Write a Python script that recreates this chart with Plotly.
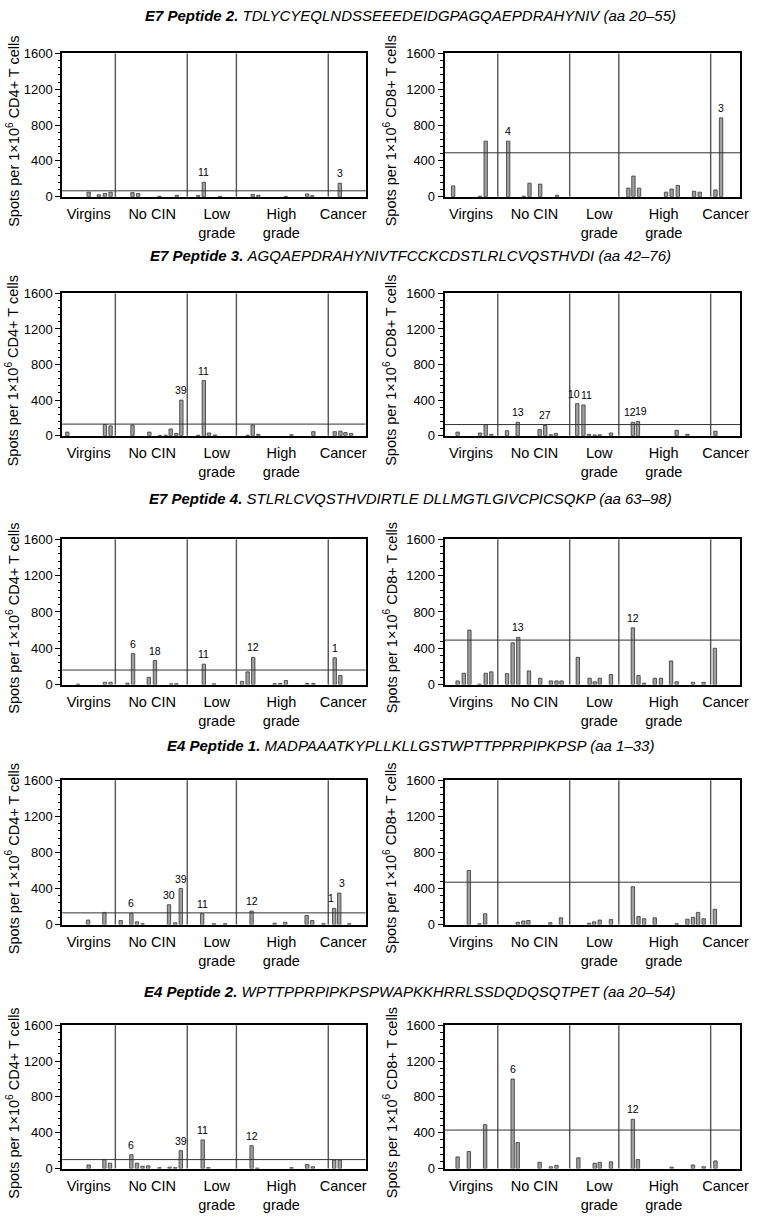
import plotly.graph_objects as go

# ---------------- data ----------------
GROUPS = ["Virgins", "No CIN", "Low<br>grade", "High<br>grade", "Cancer"]
GROUP_CENTERS = [4.7, 16.0, 27.5, 39.0, 50.0]
GROUP_BOUNDS = [9.45, 22.25, 31.0, 47.35]
X_END = [54.0, 52.6]
Y_MAX = 1600
Y_TICKS = [0, 400, 800, 1200, 1600]

TITLES = [
    ("E7 Peptide 2.", "TDLYCYEQLNDSSEEEDEIDGPAGQAEPDRAHYNIV (aa 20–55)"),
    ("E7 Peptide 3.", "AGQAEPDRAHYNIVTFCCKCDSTLRLCVQSTHVDI (aa 42–76)"),
    ("E7 Peptide 4.", "STLRLCVQSTHVDIRTLE DLLMGTLGIVCPICSQKP (aa 63–98)"),
    ("E4 Peptide 1.", "MADPAAATKYPLLKLLGSTWPTTPPRPIPKPSP (aa 1–33)"),
    ("E4 Peptide 2.", "WPTTPPRPIPKPSPWAPKKHRRLSSDQDQSQTPET (aa 20–54)"),
]
YTITLES = ["Spots per 1×10<sup>6</sup> CD4+ T cells",
           "Spots per 1×10<sup>6</sup> CD8+ T cells"]

# patient position along axis, spots value, labelled patients, cut-off line
E7P2_CD4_POS = [4.7, 6.5, 7.6, 8.6, 12.5, 13.5, 17.3, 20.4, 24.2, 25.2, 28.1, 33.9, 34.9, 39.8, 43.6, 44.5, 49.4]
E7P2_CD4_VAL = [50, 20, 35, 50, 45, 35, 5, 15, 12, 160, 3, 25, 15, 3, 30, 10, 150]
E7P2_CD4_LBL = {25.2: "11", 49.4: "3"}
E7P2_CD4_CUT = 65

E7P2_CD8_POS = [1.5, 6.3, 7.3, 11.3, 14.1, 15.1, 17.0, 20.0, 32.7, 33.6, 34.6, 39.4, 40.4, 41.5, 44.4, 45.4, 48.2, 49.2]
E7P2_CD8_VAL = [120, 5, 620, 620, 5, 150, 140, 15, 95, 230, 95, 50, 85, 125, 60, 50, 75, 880]
E7P2_CD8_LBL = {11.3: "4", 49.2: "3"}
E7P2_CD8_CUT = 490

E7P3_CD4_POS = [0.9, 7.6, 8.6, 12.5, 15.5, 17.4, 18.4, 19.3, 20.3, 21.2, 24.2, 25.2, 26.1, 27.2, 33.0, 33.9, 34.9, 40.8, 44.7, 48.5, 49.5, 50.4, 51.4]
E7P3_CD4_VAL = [40, 125, 110, 120, 40, 3, 5, 75, 25, 400, 5, 620, 30, 8, 5, 120, 15, 10, 45, 45, 50, 35, 25]
E7P3_CD4_LBL = {21.2: "39", 25.2: "11"}
E7P3_CD4_CUT = 130

E7P3_CD8_POS = [2.3, 6.3, 7.3, 8.3, 11.1, 13.0, 16.9, 17.9, 18.9, 19.8, 23.6, 24.7, 25.7, 26.7, 27.6, 29.6, 33.5, 34.4, 41.3, 43.2, 48.2]
E7P3_CD8_VAL = [40, 30, 125, 15, 55, 150, 70, 115, 10, 25, 360, 345, 15, 8, 10, 30, 150, 160, 60, 15, 50]
E7P3_CD8_LBL = {13.0: "13", 17.9: "27", 23.6: "10", 24.7: "11", 33.5: "12", 34.4: "19"}
E7P3_CD8_CUT = 125

E7P4_CD4_POS = [2.8, 7.6, 8.6, 11.6, 12.6, 15.4, 16.5, 19.4, 20.3, 25.2, 27.0, 32.0, 33.0, 34.0, 37.8, 38.8, 39.8, 43.6, 44.7, 48.5, 49.5]
E7P4_CD4_VAL = [5, 25, 25, 15, 340, 80, 265, 8, 10, 225, 8, 35, 140, 300, 10, 12, 45, 12, 12, 295, 100]
E7P4_CD4_LBL = {12.6: "6", 16.5: "18", 25.2: "11", 34.0: "12", 48.5: "1"}
E7P4_CD4_CUT = 160

E7P4_CD8_POS = [2.3, 3.4, 4.4, 6.2, 7.3, 8.3, 11.1, 12.1, 13.1, 15.0, 17.0, 18.9, 19.9, 20.8, 23.7, 25.8, 26.7, 27.6, 29.6, 33.5, 34.5, 35.5, 37.4, 38.5, 40.3, 41.3, 44.2, 46.1, 48.1]
E7P4_CD8_VAL = [40, 125, 600, 5, 125, 140, 120, 460, 520, 150, 70, 40, 40, 40, 300, 70, 30, 70, 110, 625, 100, 15, 70, 70, 260, 30, 25, 25, 400]
E7P4_CD8_LBL = {13.1: "13", 33.5: "12"}
E7P4_CD8_CUT = 490

E4P1_CD4_POS = [4.6, 7.5, 10.4, 12.3, 13.3, 14.3, 19.0, 20.1, 21.1, 24.9, 27.0, 29.0, 33.7, 37.8, 39.7, 43.5, 44.5, 46.5, 48.4, 49.3, 51.1]
E4P1_CD4_VAL = [50, 135, 45, 125, 30, 10, 220, 20, 400, 120, 10, 10, 150, 15, 25, 100, 45, 10, 180, 350, 10]
E4P1_CD4_LBL = {12.3: "6", 19.0: "30", 21.1: "39", 24.9: "11", 33.7: "12", 48.4: "1", 49.3: "3"}
E4P1_CD4_CUT = 130

E4P1_CD8_POS = [4.3, 6.2, 7.2, 13.0, 14.0, 14.9, 18.8, 20.7, 25.7, 26.6, 27.6, 29.6, 33.5, 34.5, 35.5, 37.4, 41.3, 43.2, 44.2, 45.1, 46.1, 48.1]
E4P1_CD8_VAL = [600, 10, 120, 25, 40, 45, 20, 75, 15, 30, 50, 55, 420, 90, 65, 75, 10, 60, 80, 135, 65, 170]
E4P1_CD8_LBL = {}
E4P1_CD8_CUT = 470

E4P2_CD4_POS = [4.7, 7.5, 8.5, 12.3, 13.3, 14.3, 15.3, 17.3, 19.1, 20.1, 21.1, 25.0, 26.0, 33.7, 34.7, 40.8, 43.6, 44.6, 48.4, 49.4]
E4P2_CD4_VAL = [40, 100, 60, 155, 60, 25, 30, 10, 15, 10, 200, 320, 10, 255, 5, 10, 45, 20, 95, 95]
E4P2_CD4_LBL = {12.3: "6", 21.1: "39", 25.0: "11", 33.7: "12"}
E4P2_CD4_CUT = 100

E4P2_CD8_POS = [2.3, 4.3, 7.2, 12.1, 13.0, 16.9, 18.9, 19.9, 23.8, 26.7, 27.6, 29.6, 33.5, 34.4, 40.4, 44.2, 46.1, 48.2]
E4P2_CD8_VAL = [130, 190, 490, 1000, 290, 70, 20, 35, 120, 60, 70, 75, 550, 100, 15, 40, 20, 85]
E4P2_CD8_LBL = {12.1: "6", 33.5: "12"}
E4P2_CD8_CUT = 430

PANELS = [
    [(E7P2_CD4_POS, E7P2_CD4_VAL, E7P2_CD4_LBL, E7P2_CD4_CUT), (E7P2_CD8_POS, E7P2_CD8_VAL, E7P2_CD8_LBL, E7P2_CD8_CUT)],
    [(E7P3_CD4_POS, E7P3_CD4_VAL, E7P3_CD4_LBL, E7P3_CD4_CUT), (E7P3_CD8_POS, E7P3_CD8_VAL, E7P3_CD8_LBL, E7P3_CD8_CUT)],
    [(E7P4_CD4_POS, E7P4_CD4_VAL, E7P4_CD4_LBL, E7P4_CD4_CUT), (E7P4_CD8_POS, E7P4_CD8_VAL, E7P4_CD8_LBL, E7P4_CD8_CUT)],
    [(E4P1_CD4_POS, E4P1_CD4_VAL, E4P1_CD4_LBL, E4P1_CD4_CUT), (E4P1_CD8_POS, E4P1_CD8_VAL, E4P1_CD8_LBL, E4P1_CD8_CUT)],
    [(E4P2_CD4_POS, E4P2_CD4_VAL, E4P2_CD4_LBL, E4P2_CD4_CUT), (E4P2_CD8_POS, E4P2_CD8_VAL, E4P2_CD8_LBL, E4P2_CD8_CUT)],
]

# ---------------- layout (pixels) ----------------
W, H = 763, 1220
COL_PX = [(63, 370), (450, 749)]
ROW_PX = [(47, 192), (290, 434), (539, 686), (783, 929), (1031, 1176)]
TITLE_Y_PX = [9, 252, 498, 748, 997]
TITLE_X_PX = 415
YTITLE_X_PX = [13, 395]
FONT = "Liberation Sans, Arial, Helvetica, sans-serif"


def px_x(x):
    return x / W


def px_y(y):
    return 1 - y / H


fig = go.Figure()
layout = dict(
    width=W, height=H,
    margin=dict(l=0, r=0, t=0, b=0),
    paper_bgcolor="white", plot_bgcolor="white",
    font=dict(family=FONT, color="black"),
    showlegend=False,
    bargap=0,
)
shapes = []
annotations = []

k = 0
for r, row in enumerate(PANELS):
    for c, (pos, val, lbl, cut) in enumerate(row):
        k += 1
        xa = "x" if k == 1 else f"x{k}"
        ya = "y" if k == 1 else f"y{k}"
        xkey = "xaxis" if k == 1 else f"xaxis{k}"
        ykey = "yaxis" if k == 1 else f"yaxis{k}"
        fig.add_trace(go.Bar(
            x=pos, y=val, width=0.6,
            marker=dict(color="#a0a0a0", line=dict(color="#333333", width=0.8)),
            xaxis=xa, yaxis=ya, hoverinfo="skip",
        ))
        # patient-number labels above bars; neighbours nudged apart
        lpos = sorted(lbl)
        for p in lpos:
            v = val[pos.index(p)]
            shift = 0
            if any(0 < q - p < 1.5 for q in lpos):
                shift = -3
            elif any(0 < p - q < 1.5 for q in lpos):
                shift = 3
            annotations.append(dict(
                text=lbl[p], xref=xa, yref=ya, x=p, y=v,
                xanchor="center", yanchor="bottom", yshift=2, xshift=shift,
                showarrow=False, font=dict(size=10.5, color="black"),
            ))
        x0, x1 = COL_PX[c]
        ytop, ybot = ROW_PX[r]
        layout[xkey] = dict(
            domain=[px_x(x0), px_x(x1)], anchor=ya,
            range=[0, X_END[c]], tickvals=GROUP_CENTERS, ticktext=GROUPS,
            ticks="", showline=True, mirror=True, linecolor="black", linewidth=2,
            showgrid=False, zeroline=False, tickfont=dict(size=14.5),
            ticklabelstandoff=3, ticklabeloverflow="allow", fixedrange=True,
        )
        layout[ykey] = dict(
            domain=[px_y(ybot), px_y(ytop)], anchor=xa,
            range=[0, Y_MAX], tickvals=Y_TICKS,
            ticks="outside", ticklen=5, tickwidth=1, tickcolor="black",
            minor=dict(tick0=0, dtick=80, ticks="outside", ticklen=2.5, tickcolor="black", tickwidth=1),
            showline=True, mirror=True, linecolor="black", linewidth=2,
            showgrid=False, zeroline=False, tickfont=dict(size=13), fixedrange=True,
        )
        for b in GROUP_BOUNDS:
            shapes.append(dict(type="line", xref=xa, yref=f"{ya} domain",
                               x0=b, x1=b, y0=0, y1=1,
                               line=dict(color="#555555", width=1.4)))
        shapes.append(dict(type="line", xref=f"{xa} domain", yref=ya,
                           x0=0, x1=1, y0=cut, y1=cut,
                           line=dict(color="#333333", width=1)))
        annotations.append(dict(
            text=YTITLES[c], textangle=-90, xref="paper", yref="paper",
            x=px_x(YTITLE_X_PX[c]), y=px_y((ytop + ybot) / 2 + 6),
            xanchor="center", yanchor="middle", showarrow=False,
            font=dict(size=14.5),
        ))
    bold, seq = TITLES[r]
    annotations.append(dict(
        text=f"<b><i>{bold}</i></b> <i>{seq}</i>", xref="paper", yref="paper",
        x=px_x(TITLE_X_PX), y=px_y(TITLE_Y_PX[r]), xanchor="center", yanchor="middle",
        showarrow=False, font=dict(size=15),
    ))

layout["shapes"] = shapes
layout["annotations"] = annotations
fig.update_layout(**layout)
fig.write_html("out.html",
               config={"displayModeBar": False, "staticPlot": True},
               post_script="document.body.style.margin='0';document.body.style.overflow='hidden';")
